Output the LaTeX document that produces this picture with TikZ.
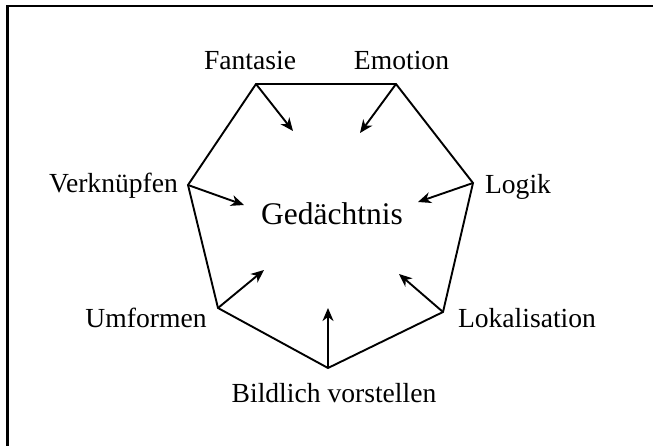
\documentclass[tikz,border=0pt]{standalone}
\usepackage{fontspec}
\setmainfont{Liberation Serif}
\usepackage{tikz}
\usetikzlibrary{arrows.meta}
\usetikzlibrary{positioning}

\begin{document}
\begin{tikzpicture}[x=1pt,y=-1pt,
		lbl/.style={
			font=\fontsize{27.6}{30}\selectfont,
			inner sep=0,
			anchor=base
		},
		edge/.style={line width=1.9pt, line join=miter},
		pointer/.style={line width=1.9pt, -{Stealth[length=13pt, width=11pt, inset=4pt]}}]
		\useasboundingbox (0,0) rectangle (653,446);
		\draw[line width=2.2pt] (7.5,446) -- (7.5,6) -- (653,6);
		
		\node at (332,225)[lbl, font=\fontsize{31.5}{34}\selectfont](mem){Gedächtnis};
		
		\coordinate (vF) at (256,84);
		\coordinate (vE) at (396,84);
		\coordinate (vL) at (473,183);
		\coordinate (vK) at (443,312);
		\coordinate (vB) at (328,368);
		\coordinate (vU) at (218,308);
		\coordinate (vV) at (188,185);
		
		\node at (250,70)[lbl](fan){Fantasie};
		\node at (401.5,70)[lbl](emo){Emotion};
		\node at (518,194)[lbl](log){Logik};
		\node at (527,327)[lbl](lok){Lokalisation};
		\node at (334,402.5)[lbl](bil){Bildlich vorstellen};
		\node at (146,327)[lbl](umf){Umformen};
		\node at (113.5,193)[lbl](ver){Verknüpfen};
		
		\draw[edge] (vF) -- (vE) -- (vL) -- (vK) -- (vB) -- (vU) -- (vV) -- cycle;
		
		\coordinate (tF) at (293,131);
		\coordinate (tE) at (360,133);
		\coordinate (tL) at (418,202);
		\coordinate (tK) at (399,274);
		\coordinate (tB) at (328,308);
		\coordinate (tU) at (264,270);
		\coordinate (tV) at (244,205);
		\draw[pointer] (vF) -- (tF);
		\draw[pointer] (vE) -- (tE);
		\draw[pointer] (vL) -- (tL);
		\draw[pointer] (vK) -- (tK);
		\draw[pointer] (vB) -- (tB);
		\draw[pointer] (vU) -- (tU);
		\draw[pointer] (vV) -- (tV);
	\end{tikzpicture}
\end{document}
